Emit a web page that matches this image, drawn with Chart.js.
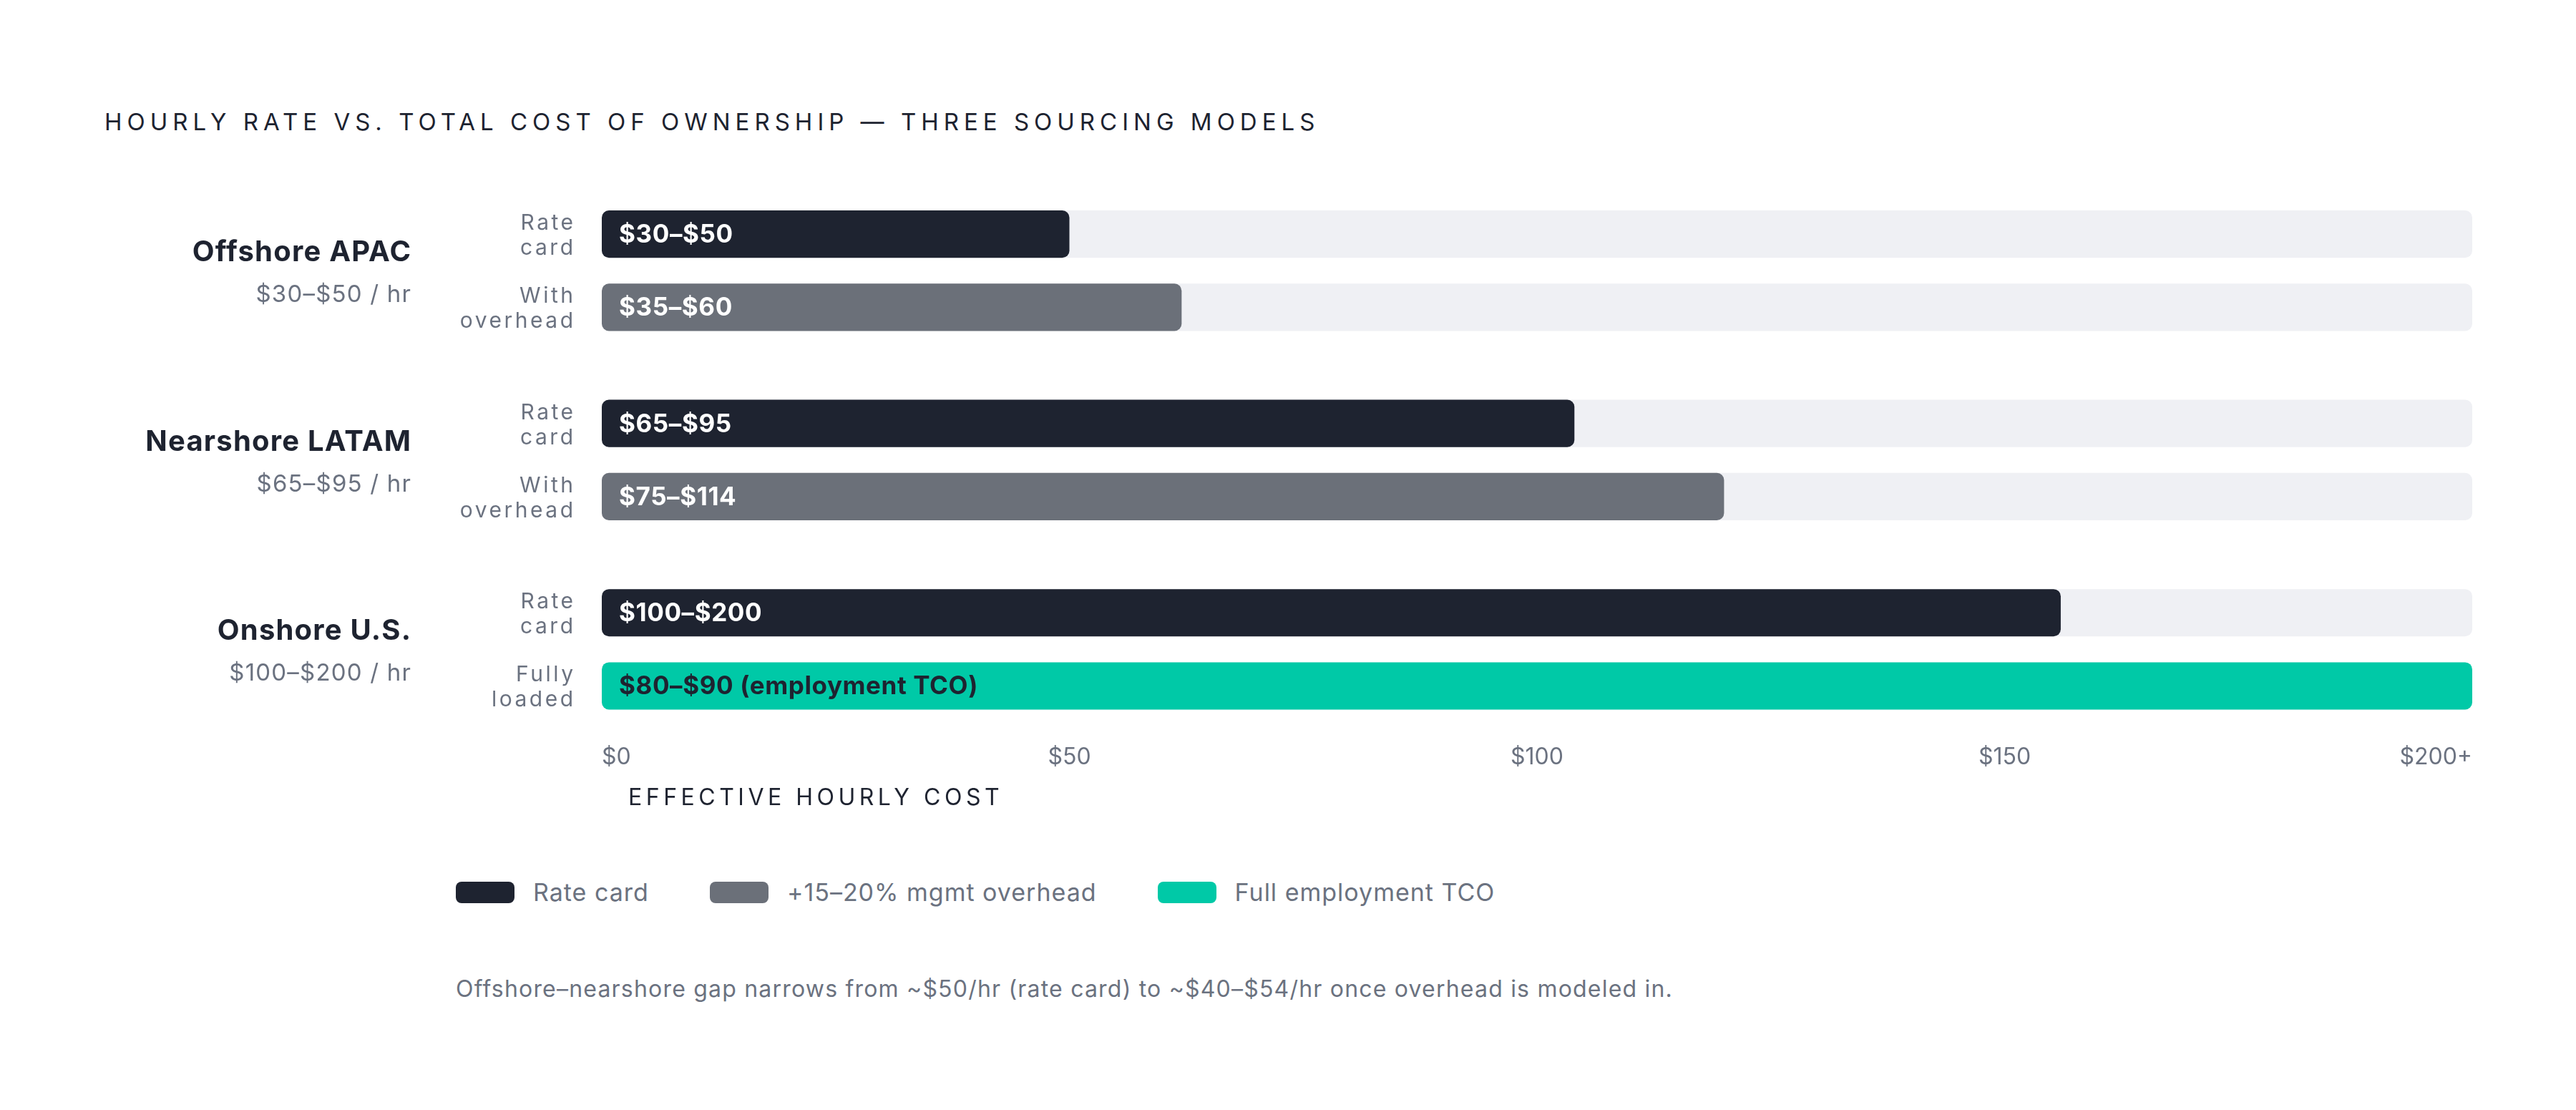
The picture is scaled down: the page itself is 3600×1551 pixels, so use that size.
<!DOCTYPE html>
<html>
<head>
<meta charset="utf-8">
<script src="https://cdn.jsdelivr.net/npm/chart.js@4.4.1/dist/chart.umd.min.js"></script>
<style>
  html, body { margin: 0; padding: 0; background: #fff; }
  body { width: 3600px; height: 1551px; position: relative; overflow: hidden; font-family: Inter, sans-serif; }
  #title { position: absolute; left: 146px; top: 154px; font-size: 33px; line-height: 1; letter-spacing: 7px; color: #1d2330; white-space: nowrap; }
  #wrap { position: absolute; left: 0; top: 0; width: 3600px; height: 1160px; }
  #legend { position: absolute; left: 637px; top: 1232px; height: 30px; display: flex; align-items: center; }
  .item { display: flex; align-items: center; margin-right: 85px; font-size: 34px; line-height: 30px; letter-spacing: 1px; color: #6b7280; white-space: nowrap; }
  .sw { width: 82px; height: 30px; border-radius: 8px; margin-right: 26px; }
  #note { position: absolute; left: 637px; top: 1366px; font-size: 32px; line-height: 1; letter-spacing: 1.2px; color: #6b7280; white-space: nowrap; }
</style>
</head>
<body>
<div id="title">HOURLY RATE VS. TOTAL COST OF OWNERSHIP — THREE SOURCING MODELS</div>
<div id="wrap"><canvas id="c"></canvas></div>
<div id="legend"></div>
<div id="note">Offshore–nearshore gap narrows from ~$50/hr (rate card) to ~$40–$54/hr once overhead is modeled in.</div>
<script>
// data (bar lengths in $/hr on the 0..200 scale)
const groups = ['Offshore APAC', 'Nearshore LATAM', 'Onshore U.S.'];
const groupRanges = ['$30–$50 / hr', '$65–$95 / hr', '$100–$200 / hr'];
const firstRowNames = [['Rate', 'card'], ['Rate', 'card'], ['Rate', 'card']];
const secondRowNames = [['With', 'overhead'], ['With', 'overhead'], ['Fully', 'loaded']];
const rateCard = [50, 104, 156];
const loaded = [62, 120, 200];
const rateCardLabels = ['$30–$50', '$65–$95', '$100–$200'];
const loadedLabels = ['$35–$60', '$75–$114', '$80–$90 (employment TCO)'];
const trackMax = [200, 200, 200];
const xTicks = [0, 50, 100, 150, 200];
const xTickLabels = ['$0', '$50', '$100', '$150', '$200+'];
const legendLabels = ['Rate card', '+15–20% mgmt overhead', 'Full employment TCO'];

const DARK = '#1e2330';
const GREY = '#6b7079';
const TEAL = '#00c9a7';
const TRACK = '#eff0f4';
const TEXT_GREY = '#6b7280';
const legendColors = [DARK, GREY, TEAL];
const loadedColors = [GREY, GREY, TEAL];

// html legend
const legendEl = document.getElementById('legend');
legendLabels.forEach((lab, i) => {
    const item = document.createElement('div');
    item.className = 'item';
    const sw = document.createElement('span');
    sw.className = 'sw';
    sw.style.background = legendColors[i];
    item.appendChild(sw);
    item.appendChild(document.createTextNode(lab));
    legendEl.appendChild(item);
});

// right aligned text with tracking; canvas adds the spacing after the last glyph too
function rightText(ctx, txt, x, y, font, color, spacing) {
    ctx.font = font;
    ctx.fillStyle = color;
    ctx.letterSpacing = spacing + 'px';
    ctx.textAlign = 'right';
    ctx.fillText(txt, x + spacing, y);
}

// labels to the left of the bars and inside them
const rowLabels = {
    id: 'rowLabels',
    afterDatasetsDraw(chart) {
        const ctx = chart.ctx;
        const ys = chart.scales.y;
        const xs = chart.scales.x;
        const metas = [chart.getDatasetMeta(0), chart.getDatasetMeta(1)];
        ctx.save();
        ctx.textBaseline = 'alphabetic';
        groups.forEach((g, i) => {
            const cy = ys.getPixelForValue(i);
            rightText(ctx, g, xs.left - 267, cy - 13, '700 40px Inter', DARK, 1.2);
            rightText(ctx, groupRanges[i], xs.left - 267, cy + 44, '400 33px Inter', TEXT_GREY, 1.2);

            metas.forEach((meta, k) => {
                const bar = meta.data[i];
                const names = k === 0 ? firstRowNames[i] : secondRowNames[i];
                rightText(ctx, names[0], xs.left - 40, bar.y - 6, '400 30px Inter', TEXT_GREY, 3.5);
                rightText(ctx, names[1], xs.left - 40, bar.y + 29, '400 30px Inter', TEXT_GREY, 3.5);

                ctx.textAlign = 'left';
                ctx.letterSpacing = '0.6px';
                ctx.font = '700 35px Inter';
                const teal = k === 1 && loadedColors[i] === TEAL;
                ctx.fillStyle = teal ? DARK : '#ffffff';
                ctx.fillText(k === 0 ? rateCardLabels[i] : loadedLabels[i], bar.base + 24, bar.y + 12);
            });
        });
        // axis title
        ctx.textAlign = 'left';
        ctx.font = '400 32px Inter';
        ctx.letterSpacing = '5.5px';
        ctx.fillStyle = DARK;
        ctx.fillText('EFFECTIVE HOURLY COST', xs.left + 37, 1125);
        ctx.restore();
    }
};

new Chart(document.getElementById('c'), {
    type: 'bar',
    data: {
        labels: groups,
        datasets: [
            { label: 'Rate card', data: rateCard, stack: 'r1', backgroundColor: DARK },
            { label: 'Loaded', data: loaded, stack: 'r2', backgroundColor: loadedColors },
            { label: 'track1', data: trackMax, stack: 'r1', backgroundColor: TRACK },
            { label: 'track2', data: trackMax, stack: 'r2', backgroundColor: TRACK }
        ]
    },
    options: {
        indexAxis: 'y',
        responsive: true, maintainAspectRatio: false,
        animation: false,
        devicePixelRatio: 1,
        categoryPercentage: 0.773,
        barPercentage: 0.647,
        datasets: { bar: { borderRadius: 10, borderSkipped: false } },
        layout: { padding: { left: 841, right: 145, top: 246, bottom: 82 } },
        scales: {
            x: {
                min: 0, max: 200, stacked: false,
                grid: { display: false, drawTicks: false },
                border: { display: false },
                afterBuildTicks: s => { s.ticks = xTicks.map(v => ({ value: v })); },
                ticks: {
                    align: 'inner', padding: 0,
                    color: TEXT_GREY,
                    font: { family: 'Inter', size: 32 },
                    callback: (v) => xTickLabels[xTicks.indexOf(v)]
                }
            },
            y: { display: false, grid: { display: false } }
        },
        plugins: { legend: { display: false }, tooltip: { enabled: false } }
    },
    plugins: [rowLabels]
});
</script>
</body>
</html>
